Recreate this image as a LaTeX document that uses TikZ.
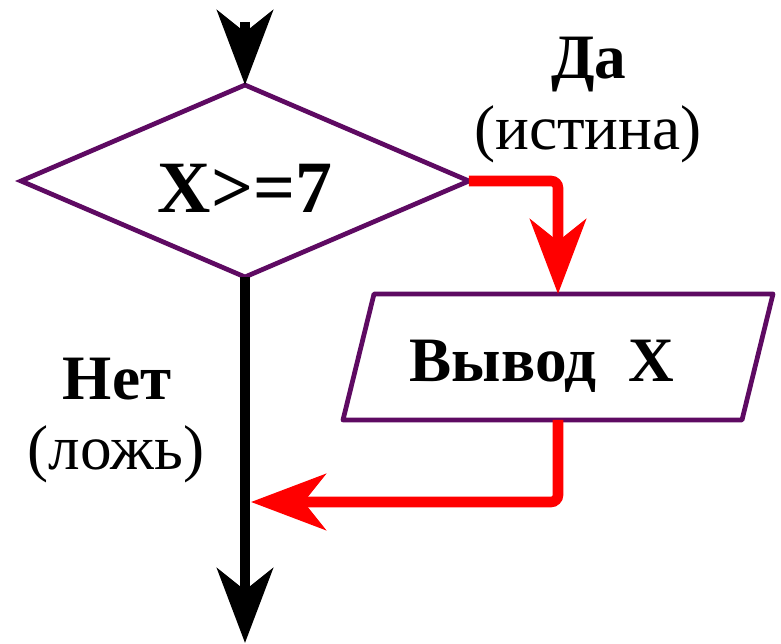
\documentclass[tikz,border=0pt]{standalone}
\usepackage{fontspec}
\setmainfont{Liberation Serif}
\usetikzlibrary{arrows.meta, shapes.geometric}

\definecolor{blockpurple}{RGB}{94,10,98}

\tikzset{
  block/.style={draw=blockpurple, line width=2.7pt, inner sep=0pt, outer sep=0pt},
  flow/.style={line width=6pt, -{Stealth[length=42.5pt, width=31.8pt, inset=12.5pt]}},
  answer/.style={anchor=base, font=\fontsize{36}{43}\selectfont\bfseries},
  note/.style={anchor=base, font=\fontsize{36}{43}\selectfont}
}

\begin{document}
\begin{tikzpicture}[x=0.02cm, y=-0.02cm]
  \useasboundingbox (0,0) rectangle (781,644);

  % condition block
  \node[block, diamond, aspect=2.33, minimum width=8.96cm, minimum height=3.84cm,
    text height=36pt, font=\fontsize{42}{50}\selectfont\bfseries] (cond) at (245,181) {X>=7};

  % output block
  \coordinate (outTL) at (374,294);
  \coordinate (outTR) at (773,294);
  \coordinate (outBR) at (742,420);
  \coordinate (outBL) at (343,420);
  \draw[block, line join=round] (outTL) -- (outTR) -- (outBR) -- (outBL) -- cycle;
  \node[answer] (out) at (542,382) {Вывод~~X};
  \coordinate (outtop) at (558,294);
  \coordinate (outbot) at (558,420);

  % branch captions
  \node[answer] (yes) at (589,79) {Да};
  \node[note] (yesnote) at (588,150) {(истина)};
  \node[answer] (no) at (117,400) {Нет};
  \node[note] (nonote) at (116,470) {(ложь)};

  \coordinate (start) at (245,22);
  \coordinate (stop) at (245,643);
  \coordinate (merge) at (251,502);

  % connectors
  \draw[flow] (start) -- (cond.north);
  \draw[flow] (cond.south) -- (stop);
  \draw[flow, red, rounded corners=4pt] (cond.east) -| (outtop);
  \draw[flow, red, rounded corners=4pt] (outbot) |- (merge);
\end{tikzpicture}
\end{document}
